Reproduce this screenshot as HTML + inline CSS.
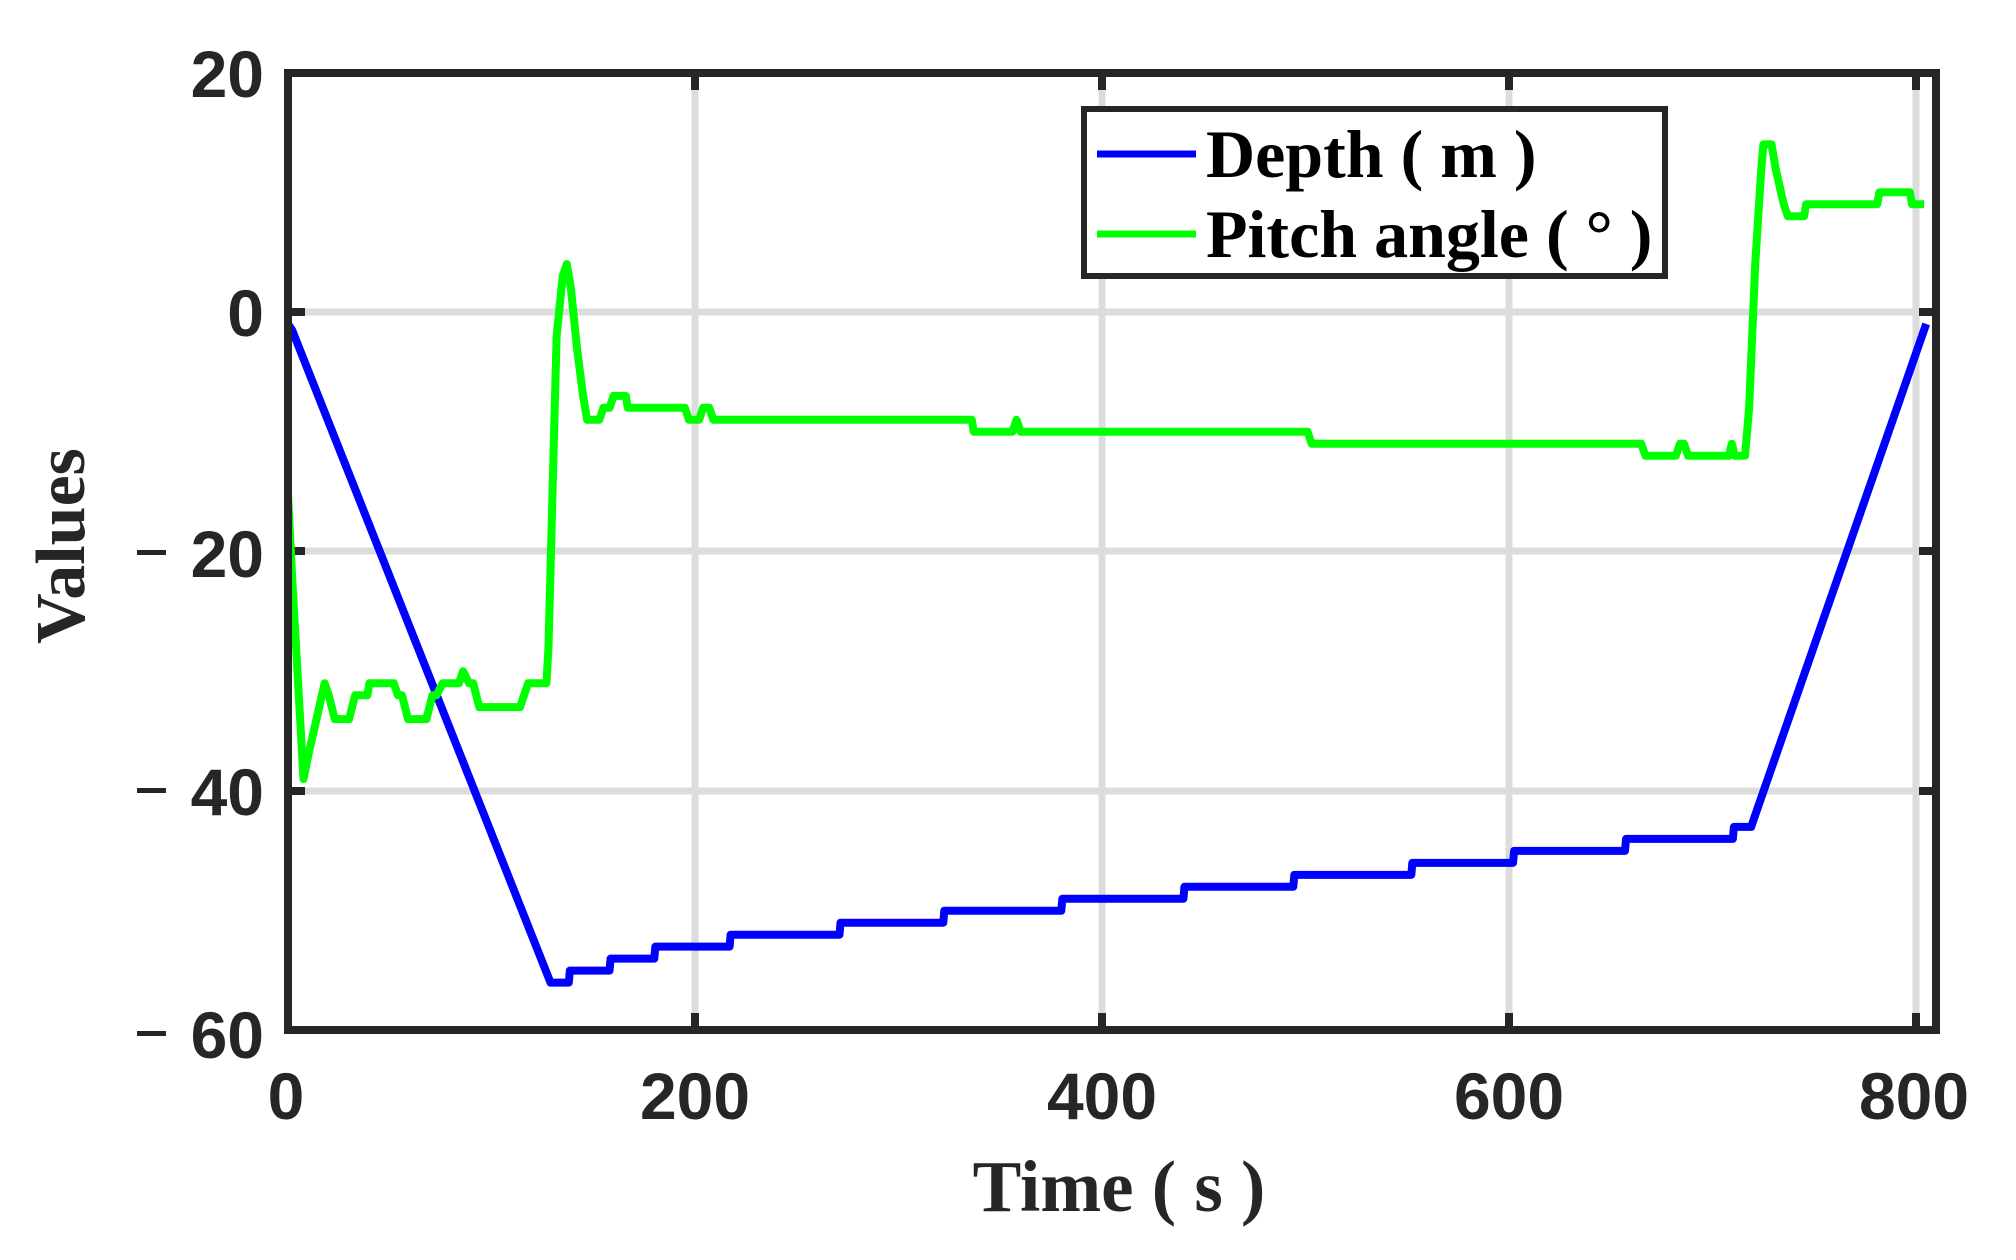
<!DOCTYPE html>
<html><head><meta charset="utf-8"><style>html,body{margin:0;padding:0;background:#fff}svg{display:block}</style></head>
<body>
<svg width="2016" height="1260" viewBox="0 0 2016 1260" xmlns="http://www.w3.org/2000/svg">
<rect width="2016" height="1260" fill="#fff"/>
<g stroke="#dcdcdc" stroke-width="7">
<line x1="695" y1="73" x2="695" y2="1030"/>
<line x1="1102" y1="73" x2="1102" y2="1030"/>
<line x1="1509" y1="73" x2="1509" y2="1030"/>
<line x1="1916" y1="73" x2="1916" y2="1030"/>
<line x1="288" y1="312" x2="1936" y2="312"/>
<line x1="288" y1="551" x2="1936" y2="551"/>
<line x1="288" y1="791" x2="1936" y2="791"/>
</g>
<g stroke="#262626" stroke-width="8">
<line x1="288" y1="312" x2="305" y2="312"/><line x1="288" y1="551" x2="305" y2="551"/><line x1="288" y1="791" x2="305" y2="791"/>
<line x1="1936" y1="312" x2="1919" y2="312"/><line x1="1936" y1="551" x2="1919" y2="551"/><line x1="1936" y1="791" x2="1919" y2="791"/>
<line x1="695" y1="1030" x2="695" y2="1013"/><line x1="1102" y1="1030" x2="1102" y2="1013"/><line x1="1509" y1="1030" x2="1509" y2="1013"/><line x1="1916" y1="1030" x2="1916" y2="1013"/>
<line x1="695" y1="73" x2="695" y2="90"/><line x1="1102" y1="73" x2="1102" y2="90"/><line x1="1509" y1="73" x2="1509" y2="90"/><line x1="1916" y1="73" x2="1916" y2="90"/>
</g>
<g transform="translate(288,312) scale(2.035,-11.975)" fill="none" stroke-linejoin="round">
<polyline vector-effect="non-scaling-stroke" stroke="#0000ff" stroke-width="8" points="0,-1 2,-1.5 129,-56 138,-56 138.5,-55 158,-55 158.5,-54 180,-54 180.5,-53 217,-53 217.5,-52 271,-52 271.5,-51 322,-51 322.5,-50 380,-50 380.5,-49 440,-49 440.5,-48 494,-48 494.5,-47 552,-47 552.5,-46 602,-46 602.5,-45 657,-45 657.5,-44 710,-44 710.5,-43 719,-43 721,-42 805,-1"/>
<polyline vector-effect="non-scaling-stroke" stroke="#00ff00" stroke-width="8" points="0,-15.2 2,-22 7.6,-39 10,-37 18,-31 20,-32 23,-34 30,-34 33,-32 39,-32 40,-31 52,-31 54,-32 56,-32 59,-34 68,-34 71,-32 73,-32 76,-31 84,-31 86,-30 89,-31 91,-31 94,-33 114,-33 116,-32 118,-31 127,-31 128,-28 130,-15 132,-2 135,3 137,4 139,2 142,-3 145,-7 147,-9 153,-9 155,-8 158,-8 160,-7 166,-7 167,-8 195,-8 197,-9 202,-9 204,-8 207,-8 209,-9 336,-9 337,-10 356,-10 358,-9 360,-10 501,-10 503,-11 665,-11 667,-12 682,-12 684,-11 686,-11 688,-12 708,-12 709.5,-11 711,-12 716,-12 718,-8 721,4 724,12 725,14 729,14 731,12 735,9 737,8 745,8 746,9 781,9 782,10 797,10 798,9 804,9"/>
</g>
<rect x="288" y="73" width="1648" height="957" fill="none" stroke="#262626" stroke-width="8"/>
<g font-family="'Liberation Sans', sans-serif" font-weight="bold" font-size="66" fill="#262626">
<g text-anchor="end">
<text x="264" y="97">20</text>
<text x="264" y="336">0</text>
<text x="264" y="577">20</text>
<text x="264" y="815">40</text>
<text x="264" y="1058">60</text>
</g>
<rect x="137" y="550" width="29" height="5"/>
<rect x="137" y="788" width="29" height="5"/>
<rect x="137" y="1031" width="29" height="5"/>
<g text-anchor="middle">
<text x="286" y="1119">0</text>
<text x="695" y="1119">200</text>
<text x="1102" y="1119">400</text>
<text x="1509" y="1119">600</text>
<text x="1914" y="1119">800</text>
</g>
</g>
<g font-family="'Liberation Serif', serif" font-weight="bold" fill="#262626">
<text x="1119" y="1211" font-size="73" text-anchor="middle">Time ( s )</text>
<text transform="translate(84,546) rotate(-90)" font-size="70" text-anchor="middle">Values</text>
</g>
<rect x="1084" y="109" width="581" height="167" fill="#fff" stroke="#262626" stroke-width="6"/>
<line x1="1097" y1="154" x2="1196" y2="154" stroke="#0000ff" stroke-width="7"/>
<line x1="1097" y1="234" x2="1196" y2="234" stroke="#00ff00" stroke-width="7"/>
<g font-family="'Liberation Serif', serif" font-weight="bold" font-size="68" fill="#000">
<text x="1206" y="177">Depth ( m )</text>
<text x="1206" y="257">Pitch angle ( ° )</text>
</g>
</svg>
</body></html>
